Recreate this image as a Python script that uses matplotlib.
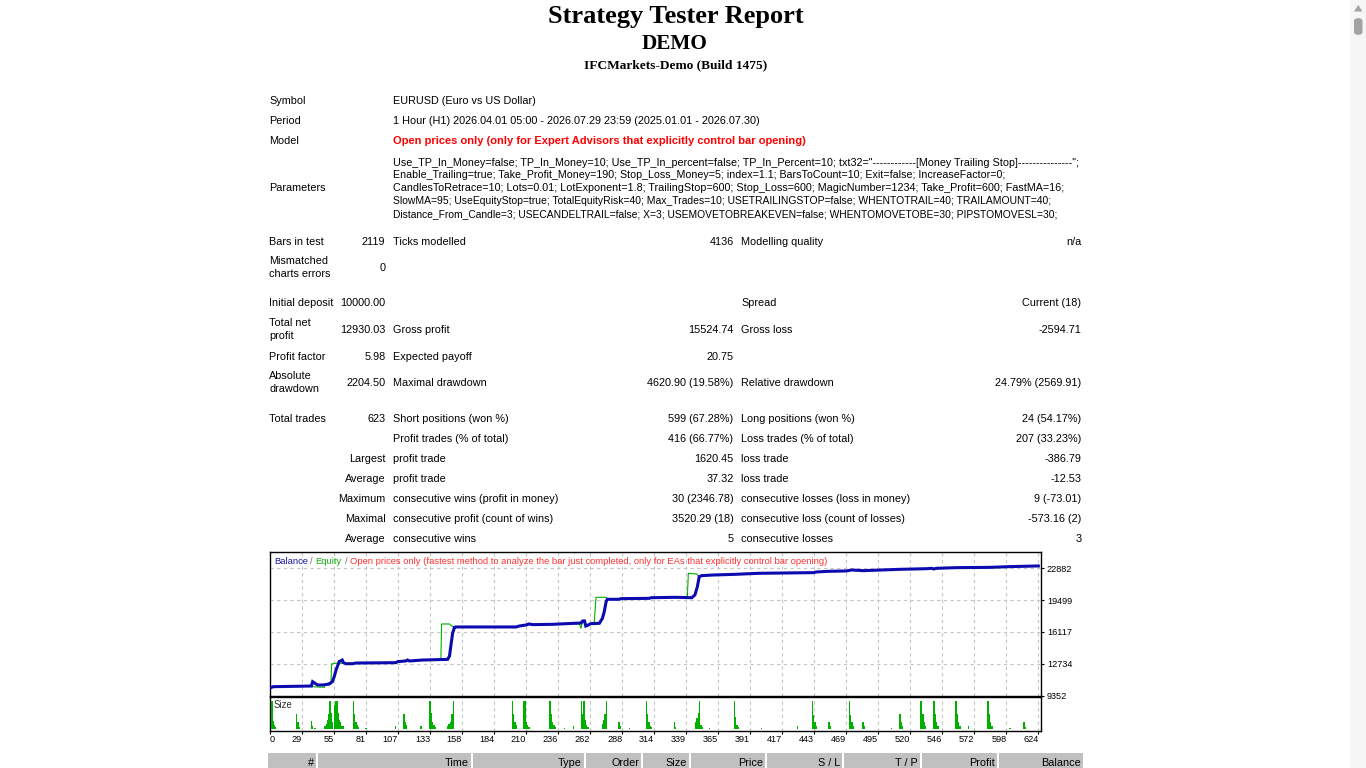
import numpy as np
import matplotlib
matplotlib.use("Agg")
import matplotlib.pyplot as plt
from matplotlib.patches import Rectangle, FancyBboxPatch, Polygon

W, H = 1366, 768
SANS = "Liberation Sans"
SERIF = "Liberation Serif"
FS = 7.8      # report text size (pt)
CFS = 6.6     # chart text size (pt)

# ---------------- report text ----------------
TITLE = "Strategy Tester Report"
ACCOUNT = "DEMO"
SERVER = "IFCMarkets-Demo (Build 1475)"

SYMBOL = "EURUSD (Euro vs US Dollar)"
PERIOD = "1 Hour (H1) 2026.04.01 05:00 - 2026.07.29 23:59 (2025.01.01 - 2026.07.30)"
MODEL = "Open prices only (only for Expert Advisors that explicitly control bar opening)"
PARAM_LINES = [
    'Use_TP_In_Money=false; TP_In_Money=10; Use_TP_In_percent=false; TP_In_Percent=10; '
    'txt32="------------[Money Trailing Stop]---------------";',
    "Enable_Trailing=true; Take_Profit_Money=190; Stop_Loss_Money=5; index=1.1; BarsToCount=10; "
    "Exit=false; IncreaseFactor=0;",
    "CandlesToRetrace=10; Lots=0.01; LotExponent=1.8; TrailingStop=600; Stop_Loss=600; "
    "MagicNumber=1234; Take_Profit=600; FastMA=16;",
    "SlowMA=95; UseEquityStop=true; TotalEquityRisk=40; Max_Trades=10; USETRAILINGSTOP=false; "
    "WHENTOTRAIL=40; TRAILAMOUNT=40;",
    "Distance_From_Candle=3; USECANDELTRAIL=false; X=3; USEMOVETOBREAKEVEN=false; "
    "WHENTOMOVETOBE=30; PIPSTOMOVESL=30;",
]

# (left label, value 1, label 2, value 2, label 3, value 3)
STAT_ROWS = [
    ("Bars in test", "2119", "Ticks modelled", "4136", "Modelling quality", "n/a"),
    ("Mismatched\ncharts errors", "0", "", "", "", ""),
    ("Initial deposit", "10000.00", "", "", "Spread", "Current (18)"),
    ("Total net\nprofit", "12930.03", "Gross profit", "15524.74", "Gross loss", "-2594.71"),
    ("Profit factor", "5.98", "Expected payoff", "20.75", "", ""),
    ("Absolute\ndrawdown", "2204.50", "Maximal drawdown", "4620.90 (19.58%)",
     "Relative drawdown", "24.79% (2569.91)"),
    ("Total trades", "623", "Short positions (won %)", "599 (67.28%)",
     "Long positions (won %)", "24 (54.17%)"),
    ("", "", "Profit trades (% of total)", "416 (66.77%)", "Loss trades (% of total)", "207 (33.23%)"),
    ("", "Largest", "profit trade", "1620.45", "loss trade", "-386.79"),
    ("", "Average", "profit trade", "37.32", "loss trade", "-12.53"),
    ("", "Maximum", "consecutive wins (profit in money)", "30 (2346.78)",
     "consecutive losses (loss in money)", "9 (-73.01)"),
    ("", "Maximal", "consecutive profit (count of wins)", "3520.29 (18)",
     "consecutive loss (count of losses)", "-573.16 (2)"),
    ("", "Average", "consecutive wins", "5", "consecutive losses", "3"),
]
STAT_Y = [241, 267, 302, 329, 356, 382, 418, 438, 458, 478, 498, 518, 538]

TABLE_COLS = ["#", "Time", "Type", "Order", "Size", "Price", "S / L", "T / P", "Profit", "Balance"]

# ---------------- chart data (trade #, money) ----------------
BALANCE = [
    (0, 10200), (2, 10310), (33, 10380), (34, 10840), (36, 10660), (38, 10490), (42, 10490),
    (47.5, 10590), (50, 10840), (51.5, 11370), (53, 12080), (54.5, 12610), (55.5, 12970),
    (58, 13140), (59, 12860), (61, 12750), (66.5, 12750), (69, 12820), (101.5, 12860),
    (103, 12970), (109.5, 13040), (111, 13140), (112.5, 13040), (123, 13140), (143.5, 13210),
    (145, 13570), (146, 14560), (147.5, 15980), (149, 16610), (150, 16650), (199, 16650),
    (201.5, 16750), (207, 16860), (209.5, 16970), (212.5, 16900), (228.5, 16930), (239.5, 17000),
    (251.5, 17070), (253, 17290), (254.5, 17290), (255.5, 16750), (257, 16830), (259.5, 17000),
    (266.5, 17040), (269, 17570), (270.5, 18280), (272, 19340), (273, 19590), (282.5, 19590),
    (284, 19660), (307, 19690), (308.5, 19760), (328.5, 19800), (341.5, 19760), (344, 20050),
    (346, 20930), (347.5, 21990), (349.5, 22100), (359, 22170), (376.5, 22240), (395.5, 22350),
    (440, 22420), (442.5, 22490), (452, 22560), (467, 22600), (471, 22700), (480.5, 22630),
    (510, 22770), (532, 22840), (536, 22880), (537.5, 22810), (540, 22880), (556, 22950),
    (583, 22980), (599.5, 23060), (622.5, 23130),
]
EQUITY = [
    (0, 10200), (2, 10310), (33, 10380), (34, 10310), (43.5, 10240), (43.8, 10490), (48.9, 10840),
    (49.4, 12720), (51.6, 12790), (58.4, 12790), (61, 12750), (66.5, 12750), (69, 12820),
    (101.5, 12860), (103, 12970), (109.5, 13040), (111, 13140), (112.5, 13040), (123, 13140),
    (138, 13210), (138.6, 16970), (144.9, 16970), (147.6, 16680), (150, 16650), (199, 16650),
    (201.5, 16750), (207, 16860), (209.5, 16970), (212.5, 16900), (228.5, 16930), (239.5, 17000),
    (250.3, 16970), (251.6, 16510), (253, 17290), (254.5, 17290), (255.5, 16750), (257, 16830),
    (259.5, 17000), (261, 17040), (262.4, 17210), (263.8, 19800), (271.9, 19800), (273.2, 19590),
    (282.5, 19590), (284, 19660), (307, 19690), (308.5, 19760), (328.5, 19800), (337.8, 19760),
    (338.7, 22350), (345.4, 22280), (346.8, 22060), (349.5, 22100), (359, 22170), (376.5, 22240),
    (395.5, 22350), (440, 22420), (442.5, 22490), (452, 22560), (467, 22600), (471, 22700),
    (480.5, 22630), (510, 22770), (532, 22840), (536, 22880), (537.5, 22810), (540, 22880),
    (556, 22950), (583, 22980), (599.5, 23060), (622.5, 23130),
]
# (trade #, lots)
SIZES = [
    (1, 0.19), (2, 0.055), (3, 0.03), (3.8, 0.013), (21, 0.1), (22, 0.051), (22.8, 0.029),
    (23.6, 0.016), (33, 0.058), (34, 0.02), (36, 0.01), (44, 0.02), (45, 0.036), (46, 0.062),
    (47, 0.1), (48, 0.19), (49.2, 0.107), (50.3, 0.051), (51.6, 0.163), (52.7, 0.19), (53.8, 0.19),
    (54.7, 0.107), (55.6, 0.062), (56.7, 0.047), (57.8, 0.02), (59.2, 0.02), (67, 0.19), (68.1, 0.1),
    (69.2, 0.047), (70.3, 0.029), (71.3, 0.013), (77.3, 0.007), (101, 0.02), (108, 0.1),
    (109.2, 0.051), (110.3, 0.029), (122, 0.02), (129.2, 0.19), (130.3, 0.107), (131.3, 0.051),
    (132.3, 0.029), (133.3, 0.013), (143.5, 0.02), (144.6, 0.036), (145.7, 0.051), (147, 0.1),
    (148.1, 0.19), (196, 0.19), (197.1, 0.1), (198.2, 0.051), (199.3, 0.029), (205, 0.19),
    (206.2, 0.19), (207.3, 0.051), (208.4, 0.029), (209.5, 0.013), (226.5, 0.19), (227.6, 0.1),
    (228.7, 0.051), (229.8, 0.029), (230.9, 0.018), (238.4, 0.007), (245.4, 0.02), (252.2, 0.19),
    (253.2, 0.1), (254.2, 0.19), (255.2, 0.062), (256.2, 0.029), (257.2, 0.013), (269, 0.036),
    (270.1, 0.062), (271.1, 0.1), (272.2, 0.19), (282.4, 0.051), (283.5, 0.02), (290.8, 0.007),
    (304.6, 0.19), (305.7, 0.1), (306.8, 0.051), (307.9, 0.02), (309, 0.013), (327.3, 0.051),
    (328.4, 0.018), (344.6, 0.051), (345.7, 0.073), (346.8, 0.107), (347.8, 0.19), (348.8, 0.029),
    (349.8, 0.018), (355.7, 0.007), (376, 0.19), (377.1, 0.085), (378.2, 0.029), (379.3, 0.018),
    (397.9, 0.007), (427, 0.02), (439.2, 0.19), (440.3, 0.096), (441.3, 0.051), (442.3, 0.02),
    (452.7, 0.051), (453.8, 0.02), (469.2, 0.19), (470.3, 0.096), (471.3, 0.051), (472.3, 0.02),
    (480.3, 0.051), (481.4, 0.02), (503.3, 0.007), (510.3, 0.1), (511.4, 0.051), (512.5, 0.02),
    (527.3, 0.19), (529, 0.1), (530.1, 0.051), (531.2, 0.02), (537.9, 0.19), (539, 0.1),
    (540, 0.051), (541, 0.02), (555.7, 0.19), (556.8, 0.1), (557.9, 0.051), (559, 0.02),
    (565.7, 0.02), (581.7, 0.19), (582.7, 0.1), (583.8, 0.051), (584.9, 0.02), (599.5, 0.007),
    (610.8, 0.051), (611.9, 0.018),
]
Y_TICKS = [9352, 12734, 16117, 19499, 22882]
X_LABELS = [0, 29, 55, 81, 107, 133, 158, 184, 210, 236, 262, 288, 314, 339, 365, 391,
            417, 443, 469, 495, 520, 546, 572, 598, 624]
LEGEND_PARTS = [
    ("Balance", "#1515a8"), ("/", "#707070"), ("Equity", "#10b010"), ("/", "#707070"),
    ("Open prices only (fastest method to analyze the bar just completed, only for EAs "
     "that explicitly control bar opening)", "#ff3030"),
]

BLUE = "#0b0bb0"
GREEN = "#00b000"
GRID = "#c4c4c4"


def fx(x):
    return x / W


def fy(y):
    return 1 - y / H


def rect(x0, y0, x1, y1):
    return [fx(x0), fy(y1), (x1 - x0) / W, (y1 - y0) / H]


fig = plt.figure(figsize=(W / 100, H / 100), dpi=100)
fig.patch.set_facecolor("white")
renderer = fig.canvas.get_renderer()


def put(x, y, s, ha="left", size=FS, color="black", weight="normal", family=SANS):
    return fig.text(fx(x), fy(y), s, ha=ha, va="center", fontsize=size, color=color,
                    fontweight=weight, family=family)


def text_width(s, size, weight="normal"):
    t = fig.text(0, 0, s, fontsize=size, family=SANS, fontweight=weight)
    w = t.get_window_extent(renderer=renderer).width
    t.remove()
    return w


def put_fit(x, y, s, right, weight="normal", color="black"):
    # the report font (Tahoma) is a little narrower in capitals; fit each line to its width
    size = FS * (right - x) / text_width(s, FS, weight)
    size = min(max(size, FS * 0.93), FS * 1.06)
    return put(x, y, s, size=size, weight=weight, color=color)


# header
put(675.5, 17, TITLE, ha="center", size=19, weight="bold", family=SERIF)
put(675, 44, ACCOUNT, ha="center", size=15.3, weight="bold", family=SERIF)
put(675.5, 65, SERVER, ha="center", size=9.6, weight="bold", family=SERIF)

L1, V1, L2, V2, L3, V3 = 269, 385.5, 393, 733.5, 741, 1081.5
put(L1, 101, "Symbol"); put(L2, 101, SYMBOL)
put(L1, 121, "Period"); put(L2, 121, PERIOD)
put(L1, 141.5, "Model"); put_fit(L2, 141.5, MODEL, 808, weight="bold", color="#ff0000")
put(L1, 188, "Parameters")
PARAM_RIGHT = [1080, 1003, 1063, 1058, 1055]
for k, line in enumerate(PARAM_LINES):
    put_fit(L2, 162.5 + k * 12.9, line, PARAM_RIGHT[k])

for y, (a, b, c, d, e, f) in zip(STAT_Y, STAT_ROWS):
    y += 0.8
    lines = a.split("\n")
    if len(lines) == 2:
        put(L1, y - 6.5, lines[0]); put(L1, y + 6.5, lines[1])
    elif a:
        put(L1, y, a)
    put(V1, y, b, ha="right")
    put(L2, y, c)
    put(V2, y, d, ha="right")
    put(L3, y, e)
    put(V3, y, f, ha="right")

# ---------------- chart ----------------
X0, X1 = -0.57, 624.9
grid_x = X0 + 25.96 * np.arange(25)

ax = fig.add_axes(rect(270, 552.3, 1041.3, 695.7))
bt, bv = np.array(BALANCE).T
et, ev = np.array(EQUITY).T
ax.plot(et, ev, color=GREEN, lw=0.8, zorder=3)
ax.plot(bt, bv, color=BLUE, lw=2.2, zorder=4, solid_joinstyle="miter")
ax.set_xlim(X0, X1)
ax.set_ylim(9352, 24580)
ax.set_xticks(grid_x[1:])
ax.tick_params(axis="x", length=0, labelbottom=False)
ax.yaxis.tick_right()
ax.set_yticks(Y_TICKS)
ax.set_yticklabels([str(v) for v in Y_TICKS], family=SANS, fontsize=CFS)
ax.tick_params(axis="y", length=2, width=0.8, pad=2.0, direction="out")
ax.grid(True, color=GRID, ls=(0, (3, 3)), lw=0.8, zorder=0)
for s in ax.spines.values():
    s.set_linewidth(1.0)

axs = fig.add_axes(rect(270, 697.3, 1041.3, 731))
st, sv = np.array(SIZES).T
axs.bar(st, sv, width=1.1, color=GREEN, lw=0, zorder=3)
axs.set_xlim(X0, X1)
axs.set_ylim(-0.0114, 0.2148)
axs.set_yticks([])
axs.set_xticks(grid_x)
axs.set_xticklabels([str(v) for v in X_LABELS], family=SANS, fontsize=CFS)
for k, t in enumerate(axs.get_xticklabels()):
    t.set_ha("left" if k == 0 else "right")
axs.tick_params(axis="x", length=2, width=0.8, pad=1.0, direction="out")
axs.grid(True, axis="x", color=GRID, ls=(0, (3, 3)), lw=0.8, zorder=0)
for s in axs.spines.values():
    s.set_linewidth(1.0)
axs.text(0.005, 0.76, "Size", transform=axs.transAxes, fontsize=CFS + 0.3, family=SANS,
         color="#303030", va="center")

# legend line at the top of the chart: place each part after the full prefix
LFS = 6.75
full = ""
for k, (s, c) in enumerate(LEGEND_PARTS):
    sep = "" if k == 0 else " "
    full_new = full + sep + s
    x_off = text_width(full_new, LFS) - text_width(s, LFS)
    put(274 + x_off, 561, s, size=LFS, color=c)
    full = full_new

# ---------------- trades table header ----------------
bounds = [267, 316.7, 472, 585, 642.3, 689.5, 766, 843.3, 920.7, 997.7, 1084.3]
for k, name in enumerate(TABLE_COLS):
    fig.patches.append(Rectangle((fx(bounds[k] + 1), fy(768)), (bounds[k + 1] - bounds[k] - 2) / W,
                                 15.3 / H, transform=fig.transFigure, color="#c0c0c0", lw=0))
    put(bounds[k + 1] - 3, 763, name, ha="right")

# ---------------- browser scrollbar ----------------
fig.patches.append(Rectangle((fx(1350), 0), 16 / W, 1, transform=fig.transFigure,
                             color="#f6f6f6", lw=0))
fig.patches.append(Polygon([(fx(1354), fy(11.5)), (fx(1362.5), fy(11.5)), (fx(1358.2), fy(5))],
                           closed=True, transform=fig.transFigure, color="#a3a3a3", lw=0))
fig.patches.append(FancyBboxPatch((fx(1354), fy(35)), 8.5 / W, 17 / H,
                                  boxstyle="round,pad=0,rounding_size=0.004",
                                  transform=fig.transFigure, color="#a3a3a3", lw=0))

fig.savefig("out.png", dpi=100, facecolor="white")
